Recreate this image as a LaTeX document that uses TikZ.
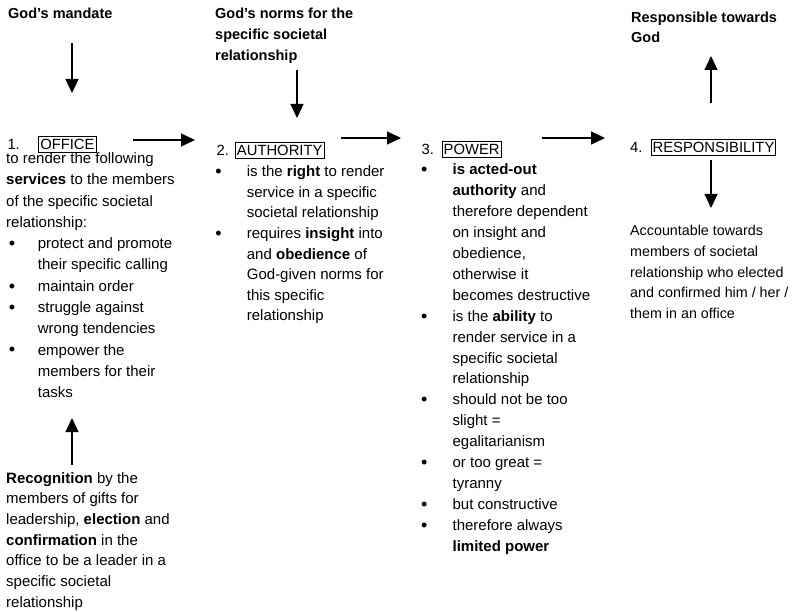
\documentclass[tikz,border=0pt]{standalone}
\usepackage{fontspec}
\setmainfont{Liberation Sans}
\usetikzlibrary{arrows.meta}
\newcommand\bi[2]{\makebox[#1][l]{\hspace*{#2}\raisebox{-0.8pt}{\fontsize{18}{18}\selectfont\textbullet}}}
\newcommand\ii[1]{\hspace*{#1}}
\begin{document}
\begin{tikzpicture}[x=1pt,y=-1pt,
  txt/.style={anchor=base west, inner sep=0pt, font=\fontsize{15}{#1}\selectfont},
  txt/.default=21.3,
  toplbl/.style={anchor=base west, inner sep=0pt, font=\fontsize{14.5}{#1}\selectfont\bfseries},
  toplbl/.default=20.7,
  hbox/.style={draw, line width=0.9pt, anchor=base west, inner xsep=1.5pt, inner ysep=2.5pt,
    text height=10.6pt, text depth=0pt, font=\fontsize{14.8}{18}\selectfont},
  num/.style={anchor=base west, inner sep=0pt, font=\fontsize{14.8}{18}\selectfont},
  arr/.style={-{Triangle[width=13pt,length=14pt]}, line width=1.1pt}]
\fill[white] (0,0) rectangle (794,612);
\useasboundingbox (0,0) rectangle (794,612);

% top labels
\node[toplbl] (mandate) at (8,19) {God’s mandate};
\node[toplbl=20.7] (norms) at (215,19) {\begin{tabular}[t]{@{}l@{}}God’s norms for the\\ specific societal\\ relationship\end{tabular}};
\node[toplbl=19.5] (respgod) at (631,23) {\begin{tabular}[t]{@{}l@{}}Responsible towards\\ God\end{tabular}};

% headings
\node[num] (n1) at (7.3,149.8) {1.};
\node[hbox] (office) at (38.3,149.8) {OFFICE};
\node[num] (n2) at (216.5,155.5) {2.};
\node[hbox] (authority) at (235,155.5) {AUTHORITY};
\node[num] (n3) at (421.5,155) {3.};
\node[hbox] (power) at (441.7,155) {POWER};
\node[num] (n4) at (630,153) {4.};
\node[hbox] (resp) at (650.7,153) {RESPONSIBILITY};

% column 1
\node[txt=21.3] (c1) at (6,163.5) {\begin{tabular}[t]{@{}l@{}}
to render the following\\
\textbf{services} to the members\\
of the specific societal\\
relationship:\\
\bi{31.7pt}{2.6pt}protect and promote\\
\ii{31.7pt}their specific calling\\
\bi{31.7pt}{2.6pt}maintain order\\
\bi{31.7pt}{2.6pt}struggle against\\
\ii{31.7pt}wrong tendencies\\
\bi{31.7pt}{2.6pt}empower the\\
\ii{31.7pt}members for their\\
\ii{31.7pt}tasks
\end{tabular}};

\node[txt=20.7] (recog) at (6,483) {\begin{tabular}[t]{@{}l@{}}
\textbf{Recognition} by the\\
members of gifts for\\
leadership, \textbf{election} and\\
\textbf{confirmation} in the\\
office to be a leader in a\\
specific societal\\
relationship
\end{tabular}};

% column 2
\node[txt=20.6] (c2) at (215.7,176.7) {\begin{tabular}[t]{@{}l@{}}
\bi{31pt}{-0.5pt}is the \textbf{right} to render\\
\ii{31pt}service in a specific\\
\ii{31pt}societal relationship\\
\bi{31pt}{-0.5pt}requires \textbf{insight} into\\
\ii{31pt}and \textbf{obedience} of\\
\ii{31pt}God-given norms for\\
\ii{31pt}this specific\\
\ii{31pt}relationship
\end{tabular}};

% column 3
\node[txt=20.9] (c3) at (421.4,175) {\begin{tabular}[t]{@{}l@{}}
\bi{31pt}{-0.5pt}\textbf{is acted-out}\\
\ii{31pt}\textbf{authority} and\\
\ii{31pt}therefore dependent\\
\ii{31pt}on insight and\\
\ii{31pt}obedience,\\
\ii{31pt}otherwise it\\
\ii{31pt}becomes destructive\\
\bi{31pt}{-0.5pt}is the \textbf{ability} to\\
\ii{31pt}render service in a\\
\ii{31pt}specific societal\\
\ii{31pt}relationship\\
\bi{31pt}{-0.5pt}should not be too\\
\ii{31pt}slight =\\
\ii{31pt}egalitarianism\\
\bi{31pt}{-0.5pt}or too great =\\
\ii{31pt}tyranny\\
\bi{31pt}{-0.5pt}but constructive\\
\bi{31pt}{-0.5pt}therefore always\\
\ii{31pt}\textbf{limited power}
\end{tabular}};

% column 4
\node[anchor=base west, inner sep=0pt, font=\fontsize{14.3}{20.5}\selectfont] (c4) at (630,236) {\begin{tabular}[t]{@{}l@{}}
Accountable towards\\
members of societal\\
relationship who elected\\
and confirmed him / her /\\
them in an office
\end{tabular}};

% arrow end points
\coordinate (a1s) at (72,43);   \coordinate (a1e) at (72,93);
\coordinate (a2s) at (297,70);  \coordinate (a2e) at (297,118);
\coordinate (a3s) at (711,103); \coordinate (a3e) at (711,56);
\coordinate (a4s) at (711,160); \coordinate (a4e) at (711,208);
\coordinate (a5s) at (72,465);  \coordinate (a5e) at (72,418);
\coordinate (h1s) at (133,140); \coordinate (h1e) at (195,140);
\coordinate (h2s) at (341,138); \coordinate (h2e) at (401,138);
\coordinate (h3s) at (542,138); \coordinate (h3e) at (605,138);

\draw[arr] (a1s) -- (a1e);
\draw[arr] (a2s) -- (a2e);
\draw[arr] (a3s) -- (a3e);
\draw[arr] (a4s) -- (a4e);
\draw[arr] (a5s) -- (a5e);
\draw[arr] (h1s) -- (h1e);
\draw[arr] (h2s) -- (h2e);
\draw[arr] (h3s) -- (h3e);
\end{tikzpicture}
\end{document}
